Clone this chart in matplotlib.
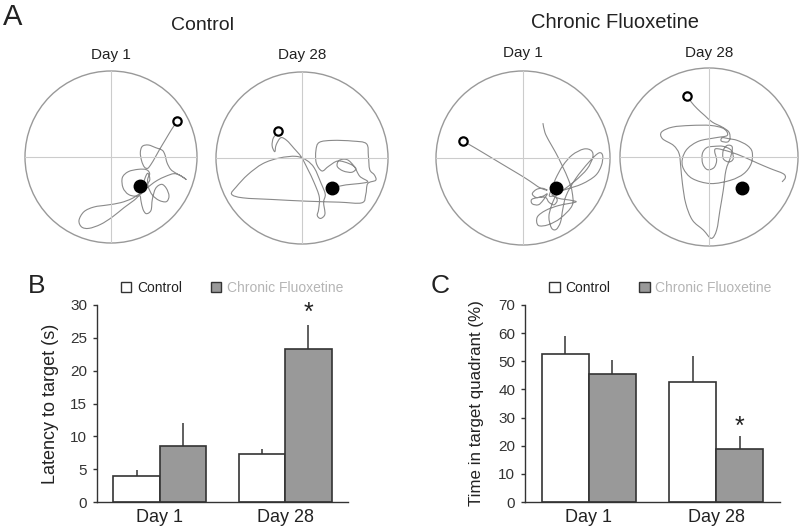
import numpy as np
import matplotlib.pyplot as plt
from matplotlib.patches import Circle, Patch, PathPatch
from matplotlib.path import Path

plt.rcParams['font.family'] = ['Liberation Sans', 'DejaVu Sans']

W, H = 800, 531

# ---- panel A: swim paths, tracker pixels (y pointing down) ----
# arena = (centre x, centre y, radius) in the tracker frame
ctrl_d1_arena = (266, 268, 258)
ctrl_d1_start = (465, 160)
ctrl_d1_platform = (352, 355)
ctrl_d1_x = [465, 448, 430, 412, 398, 386, 376, 366, 358, 354, 360, 378, 400, 420, 428, 434, 445, 460, 478, 492,
             475, 455, 430, 405, 385, 360, 330, 295, 255, 215, 185, 170, 178, 200, 235, 270, 305, 335, 352, 356,
             362, 372, 386, 390, 400, 418, 432, 440, 432, 410, 390, 378, 376, 382, 372, 348, 318, 300, 302, 318,
             342, 362, 364, 372, 378, 382, 366, 352]
ctrl_d1_y = [160, 185, 215, 245, 270, 290, 302, 298, 280, 255, 236, 232, 240, 248, 262, 285, 305, 316, 326, 336,
             324, 318, 326, 338, 352, 372, 392, 405, 412, 418, 432, 458, 478, 482, 470, 448, 420, 398, 384, 400,
             425, 438, 428, 395, 362, 350, 362, 385, 402, 398, 382, 358, 335, 318, 306, 305, 312, 330, 360, 380,
             385, 372, 345, 322, 318, 338, 356, 356]

ctrl_d28_arena = (268, 275, 259)
ctrl_d28_start = (196, 195)
ctrl_d28_platform = (358, 365)
ctrl_d28_x = [196, 182, 178, 186, 190, 204, 222, 244, 266, 286, 304, 320, 318, 314, 324, 337, 333, 338, 325, 305,
              282, 250, 200, 150, 105, 70, 56, 90, 180, 280, 380, 448, 460, 466, 490, 486, 472, 468, 462, 420,
              360, 320, 310, 311, 328, 348, 376, 410, 430, 418, 392, 374, 380, 404, 425, 442, 466, 440, 400, 362]
ctrl_d28_y = [200, 214, 238, 256, 236, 214, 222, 246, 272, 310, 348, 392, 430, 448, 457, 444, 408, 384, 350, 305,
              282, 270, 275, 292, 325, 362, 384, 395, 400, 405, 408, 410, 385, 352, 342, 326, 310, 270, 232, 224,
              222, 228, 252, 290, 314, 300, 284, 292, 306, 318, 314, 300, 282, 280, 300, 330, 346, 352, 356, 364]

fluox_d1_arena = (272, 277, 262)
fluox_d1_start = (90, 225)
fluox_d1_platform = (370, 368)
fluox_d1_x = [90, 130, 180, 230, 275, 305, 325, 345, 330, 312, 300, 312, 332, 345, 332, 318, 300, 298, 318, 340,
              350, 365, 375, 368, 352, 355, 370, 392, 420, 455, 478, 482, 465, 430, 395, 372, 358, 350, 358, 372,
              385, 392, 402, 430, 470, 500, 512, 508, 490, 450, 400, 360, 378, 420, 430, 380, 340, 315, 318, 348,
              385, 420, 420, 410, 390, 370, 350, 338, 332]
fluox_d1_y = [225, 248, 278, 308, 335, 355, 368, 374, 368, 372, 385, 396, 392, 385, 405, 418, 415, 402, 396, 396,
              410, 418, 405, 392, 392, 378, 340, 300, 268, 250, 255, 275, 310, 345, 372, 390, 420, 455, 488, 492,
              470, 430, 390, 340, 290, 262, 270, 300, 330, 355, 372, 385, 398, 405, 410, 420, 435, 455, 480, 478,
              458, 420, 380, 345, 300, 260, 225, 200, 172]

fluox_d28_arena = (275, 280, 268)
fluox_d28_start = (210, 97)
fluox_d28_platform = (373, 373)
fluox_d28_x = [210, 222, 240, 262, 285, 315, 335, 338, 330, 312, 315, 335, 360, 390, 405, 402, 380, 340, 280, 225,
               198, 195, 210, 245, 295, 330, 320, 280, 220, 165, 132, 135, 168, 185, 190, 195, 205, 225, 258, 282,
               298, 308, 318, 326, 340, 345, 330, 318, 318, 335, 348, 342, 318, 290, 268, 255, 256, 270, 290, 298,
               292, 300, 340, 380, 420, 460, 498, 505, 495]
fluox_d28_y = [97, 115, 135, 155, 175, 190, 205, 225, 235, 232, 222, 225, 230, 245, 265, 300, 330, 350, 360, 345,
               315, 285, 255, 232, 222, 215, 195, 185, 185, 190, 205, 225, 245, 270, 310, 360, 420, 470, 500, 525,
               500, 440, 380, 320, 280, 250, 245, 260, 285, 295, 285, 260, 248, 248, 252, 270, 300, 318, 312, 290,
               262, 255, 265, 280, 298, 315, 330, 342, 355]

tanks = [
    ('Day 1', ctrl_d1_arena, ctrl_d1_x, ctrl_d1_y, ctrl_d1_start, ctrl_d1_platform),
    ('Day 28', ctrl_d28_arena, ctrl_d28_x, ctrl_d28_y, ctrl_d28_start, ctrl_d28_platform),
    ('Day 1', fluox_d1_arena, fluox_d1_x, fluox_d1_y, fluox_d1_start, fluox_d1_platform),
    ('Day 28', fluox_d28_arena, fluox_d28_x, fluox_d28_y, fluox_d28_start, fluox_d28_platform),
]

# ---- panels B and C: bar data ----
days = ['Day 1', 'Day 28']
latency_ctrl = [4.0, 7.3]
latency_ctrl_sem = [0.9, 0.8]
latency_fluox = [8.6, 23.3]
latency_fluox_sem = [3.4, 3.7]

quadrant_ctrl = [52.6, 42.7]
quadrant_ctrl_sem = [6.4, 9.2]
quadrant_fluox = [45.4, 18.9]
quadrant_fluox_sem = [4.9, 4.4]

fig = plt.figure(figsize=(W / 100, H / 100), dpi=100)


def px_axes(left, top, width, height):
    return fig.add_axes([left / W, 1 - (top + height) / H, width / W, height / H])


def px_text(x, y, s, **kw):
    fig.text(x / W, 1 - y / H, s, **kw)


def track_path(u, v):
    # draw the tracked points as a smooth curve (Catmull-Rom as cubic Beziers)
    p = np.column_stack([u, v])
    n = len(p)
    verts = [p[0]]
    codes = [Path.MOVETO]
    for i in range(n - 1):
        p0 = p[max(i - 1, 0)]
        p1 = p[i]
        p2 = p[i + 1]
        p3 = p[min(i + 2, n - 1)]
        verts += [p1 + (p2 - p0) / 6, p2 - (p3 - p1) / 6, p2]
        codes += [Path.CURVE4] * 3
    return Path(verts, codes)


# layout of the four arenas on the page
tank_pos = [(111, 157, 86), (302, 158, 86), (523, 158, 87), (709, 157, 89)]
title_y = [55, 55, 53, 53]

for (label, arena, xs, ys, start, plat), (cx, cy, r), ty in zip(tanks, tank_pos, title_y):
    ax = px_axes(cx - r, cy - r, 2 * r, 2 * r)
    ax.set_xlim(-1, 1)
    ax.set_ylim(-1, 1)
    ax.axis('off')
    ax0, ay0, ar = arena
    u = (np.array(xs) - ax0) / ar
    v = (ay0 - np.array(ys)) / ar
    ax.add_patch(Circle((0, 0), 1, fill=False, edgecolor='#999999', lw=1.0, clip_on=False))
    ax.plot([-1, 1], [0, 0], color='#cccccc', lw=0.8)
    ax.plot([0, 0], [-1, 1], color='#cccccc', lw=0.8)
    ax.add_patch(PathPatch(track_path(u, v), fill=False, edgecolor='#8a8a8a', lw=0.8))
    ax.plot((plat[0] - ax0) / ar, (ay0 - plat[1]) / ar, 'o', color='black', ms=9)
    ax.plot((start[0] - ax0) / ar, (ay0 - start[1]) / ar, 'o', mfc='white', mec='black', mew=1.6, ms=6)
    px_text(cx, ty, label, ha='center', va='center', fontsize=11, color='#222222')

px_text(3, 17, 'A', ha='left', va='center', fontsize=21, color='#222222')
px_text(202, 25, 'Control', ha='center', va='center', fontsize=14, color='#222222')
px_text(615, 22, 'Chronic Fluoxetine', ha='center', va='center', fontsize=14.5, color='#222222')


def bar_panel(ax, ctrl, ctrl_sem, fluox, fluox_sem, ymax, ystep, ylabel, star_gap):
    x = np.arange(len(days))
    w = 0.37
    ax.bar(x - w / 2, ctrl, w, color='white', edgecolor='#333333', lw=1.2, zorder=2)
    ax.bar(x + w / 2, fluox, w, color='#999999', edgecolor='#333333', lw=1.2, zorder=2)
    ax.errorbar(x - w / 2, ctrl, yerr=[np.zeros(len(ctrl)), ctrl_sem], fmt='none',
                ecolor='#444444', elinewidth=1.2, capsize=0, zorder=1)
    ax.errorbar(x + w / 2, fluox, yerr=[np.zeros(len(fluox)), fluox_sem], fmt='none',
                ecolor='#444444', elinewidth=1.2, capsize=0, zorder=1)
    ax.set_xlim(-0.5, 1.5)
    ax.set_ylim(0, ymax)
    ax.set_yticks(np.arange(0, ymax + 1, ystep))
    ax.set_xticks(x)
    ax.set_xticklabels(days, fontsize=13, color='#222222')
    ax.tick_params(axis='x', length=0, pad=5)
    ax.tick_params(axis='y', length=3, width=1, direction='out', labelsize=11,
                   colors='#333333', pad=4)
    for s in ['top', 'right']:
        ax.spines[s].set_visible(False)
    for s in ['left', 'bottom']:
        ax.spines[s].set_color('#333333')
        ax.spines[s].set_linewidth(1.0)
    ax.set_ylabel(ylabel, fontsize=13, color='#222222')
    # significance star over the fluoxetine Day 28 bar
    ax.annotate('*', xy=(x[1] + w / 2, fluox[1] + fluox_sem[1]), xytext=(0, star_gap),
                textcoords='offset points', ha='center', va='bottom', fontsize=18, color='#222222')
    handles = [Patch(facecolor='white', edgecolor='#333333', lw=1.0),
               Patch(facecolor='#999999', edgecolor='#333333', lw=1.0)]
    leg = ax.legend(handles, ['Control', 'Chronic Fluoxetine'], loc='lower left',
                    bbox_to_anchor=(0.095, 1.05), ncol=2, frameon=False, fontsize=10,
                    handlelength=0.75, handleheight=0.75, handletextpad=0.4,
                    columnspacing=2.1, borderpad=0, borderaxespad=0)
    leg.get_texts()[0].set_color('#222222')
    leg.get_texts()[1].set_color('#b5b5b5')


axB = px_axes(97, 305, 251, 197)
bar_panel(axB, latency_ctrl, latency_ctrl_sem, latency_fluox, latency_fluox_sem,
          30, 5, 'Latency to target (s)', 0)
axB.yaxis.set_label_coords(-0.15, 0.5)
px_text(28, 286, 'B', ha='left', va='center', fontsize=19, color='#222222')

axC = px_axes(525, 305, 255, 197)
bar_panel(axC, quadrant_ctrl, quadrant_ctrl_sem, quadrant_fluox, quadrant_fluox_sem,
          70, 10, 'Time in target quadrant (%)', -2)
axC.yaxis.set_label_coords(-0.16, 0.5)
axC.yaxis.label.set_fontsize(12.2)
px_text(431, 286, 'C', ha='left', va='center', fontsize=19, color='#222222')

fig.savefig('out.png', dpi=100)
